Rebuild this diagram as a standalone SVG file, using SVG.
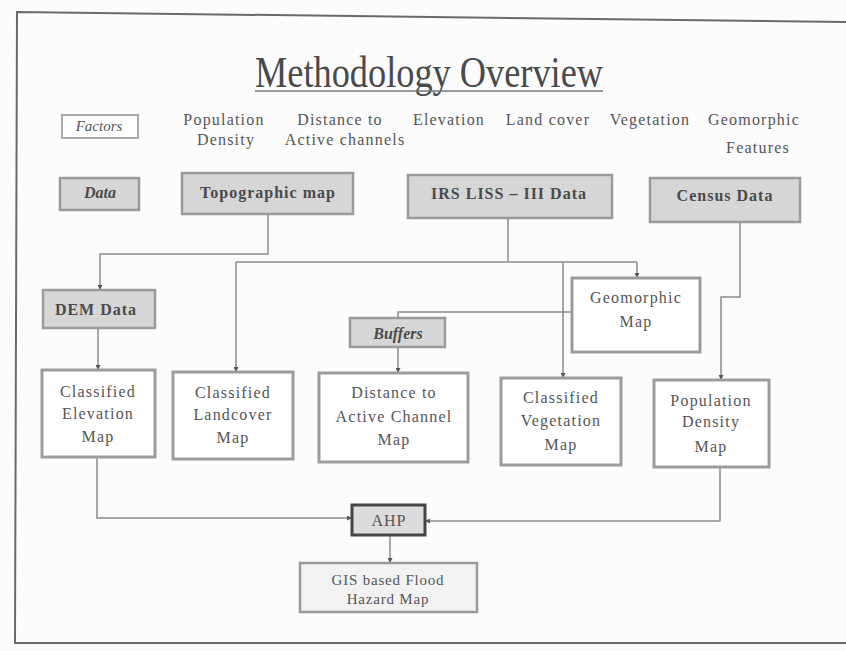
<svg xmlns="http://www.w3.org/2000/svg" width="846" height="651" viewBox="0 0 846 651">
<style>
text{font-family:"Liberation Serif","Times New Roman",serif;text-anchor:middle;fill:#555}
.title{font-size:44px;fill:#4a4a4a}
.f{font-size:16px;letter-spacing:1.2px}
.d{font-size:16px;font-weight:bold;letter-spacing:1px;fill:#4a4a4a}
.di{font-size:16px;font-weight:bold;font-style:italic;fill:#4a4a4a}
.m{font-size:16px;letter-spacing:1.2px}
.g{fill:#d6d6d6;stroke:#9a9a9a;stroke-width:2.5}
.w{fill:#ffffff;stroke:#9c9c9c;stroke-width:3}
.c{fill:none;stroke:#8c8c8c;stroke-width:1.5}
</style>
<defs>
<marker id="ah" viewBox="0 0 6 6" refX="6" refY="3" markerWidth="5" markerHeight="5" orient="auto" markerUnits="userSpaceOnUse">
<path d="M0,0 L6,3 L0,6 z" fill="#555"/>
</marker>
</defs>
<rect width="846" height="651" fill="#fcfcfc"/>
<g id="frame" fill="none" stroke="#6a6a6a" stroke-width="2">
<polyline points="846,22 17,12 15,643 846,643"/>
</g>
<g id="title">
<text class="title" x="429" y="87" textLength="348" lengthAdjust="spacingAndGlyphs">Methodology Overview</text>
<line x1="255" y1="91" x2="603" y2="91" stroke="#777" stroke-width="1.5"/>
</g>
<g id="factors">
<rect x="62" y="115" width="76" height="23" fill="#fff" stroke="#aaa" stroke-width="2"/>
<text x="99" y="131" style="font-size:15px;font-style:italic">Factors</text>
<text class="f" x="224" y="125">Population</text>
<text class="f" x="226" y="145">Density</text>
<text class="f" x="340" y="125">Distance to</text>
<text class="f" x="345" y="145">Active channels</text>
<text class="f" x="449" y="125">Elevation</text>
<text class="f" x="548" y="125">Land cover</text>
<text class="f" x="650" y="125">Vegetation</text>
<text class="f" x="754" y="125">Geomorphic</text>
<text class="f" x="758" y="153">Features</text>
</g>
<g id="connectors" class="c">
<polyline class="c" points="268,214 268,254 100,254 100,290" marker-end="url(#ah)"/>
<polyline class="c" points="236,262 637,262"/>
<line class="c" x1="508" y1="218" x2="508" y2="262"/>
<line class="c" x1="637" y1="262" x2="637" y2="278" marker-end="url(#ah)"/>
<line class="c" x1="236" y1="262" x2="236" y2="372" marker-end="url(#ah)"/>
<line class="c" x1="563" y1="262" x2="563" y2="378" marker-end="url(#ah)"/>
<polyline class="c" points="572,312 398,312 398,318"/>
<line class="c" x1="398" y1="347" x2="398" y2="373" marker-end="url(#ah)"/>
<polyline class="c" points="740,222 740,297 721,297 721,380" marker-end="url(#ah)"/>
<line class="c" x1="98" y1="328" x2="98" y2="370" marker-end="url(#ah)"/>
<polyline class="c" points="97,457 97,518 352,518" marker-end="url(#ah)"/>
<polyline class="c" points="720,467 720,521 425,521" marker-end="url(#ah)"/>
<line class="c" x1="390" y1="535" x2="390" y2="563" marker-end="url(#ah)"/>
</g>
<g id="data">
<rect class="g" x="60" y="178" width="79" height="32"/>
<text class="di" x="100" y="198">Data</text>
</g>
<g id="topo">
<rect class="g" x="182" y="173" width="171" height="41"/>
<text class="d" x="268" y="198">Topographic map</text>
</g>
<g id="irs">
<rect class="g" x="408" y="175" width="204" height="43"/>
<text class="d" x="509" y="199">IRS LISS – III Data</text>
</g>
<g id="census">
<rect class="g" x="650" y="178" width="150" height="44"/>
<text class="d" x="725" y="201">Census Data</text>
</g>
<g id="dem">
<rect class="g" x="43" y="290" width="112" height="38"/>
<text class="d" x="96" y="315">DEM Data</text>
</g>
<g id="geomorphic">
<rect class="w" x="572" y="278" width="128" height="74"/>
<text class="m" x="636" y="303">Geomorphic</text>
<text class="m" x="636" y="327">Map</text>
</g>
<g id="buffers">
<rect class="g" x="350" y="318" width="95" height="29"/>
<text class="di" x="398" y="339">Buffers</text>
</g>
<g id="elev">
<rect class="w" x="42" y="370" width="113" height="87"/>
<text class="m" x="98" y="397">Classified</text>
<text class="m" x="98" y="419">Elevation</text>
<text class="m" x="98" y="442">Map</text>
</g>
<g id="landcover">
<rect class="w" x="173" y="372" width="120" height="87"/>
<text class="m" x="233" y="398">Classified</text>
<text class="m" x="233" y="420">Landcover</text>
<text class="m" x="233" y="443">Map</text>
</g>
<g id="distance">
<rect class="w" x="319" y="373" width="149" height="89"/>
<text class="m" x="394" y="398">Distance to</text>
<text class="m" x="394" y="422">Active Channel</text>
<text class="m" x="394" y="445">Map</text>
</g>
<g id="vegetation">
<rect class="w" x="501" y="378" width="120" height="87"/>
<text class="m" x="561" y="403">Classified</text>
<text class="m" x="561" y="426">Vegetation</text>
<text class="m" x="561" y="450">Map</text>
</g>
<g id="population">
<rect class="w" x="654" y="380" width="115" height="87"/>
<text class="m" x="711" y="406">Population</text>
<text class="m" x="711" y="427">Density</text>
<text class="m" x="711" y="452">Map</text>
</g>
<g id="ahp">
<rect x="352" y="505" width="73" height="30" fill="#dcdcdc" stroke="#444" stroke-width="3"/>
<text x="389" y="526" style="font-size:16px;letter-spacing:1px">AHP</text>
</g>
<g id="gis">
<rect x="300" y="563" width="177" height="49" fill="#f2f2f2" stroke="#9a9a9a" stroke-width="2.5"/>
<text class="m" x="388" y="585" style="font-size:15px;letter-spacing:0.8px">GIS based Flood</text>
<text class="m" x="388" y="604" style="font-size:15px;letter-spacing:0.8px">Hazard Map</text>
</g>
</svg>
